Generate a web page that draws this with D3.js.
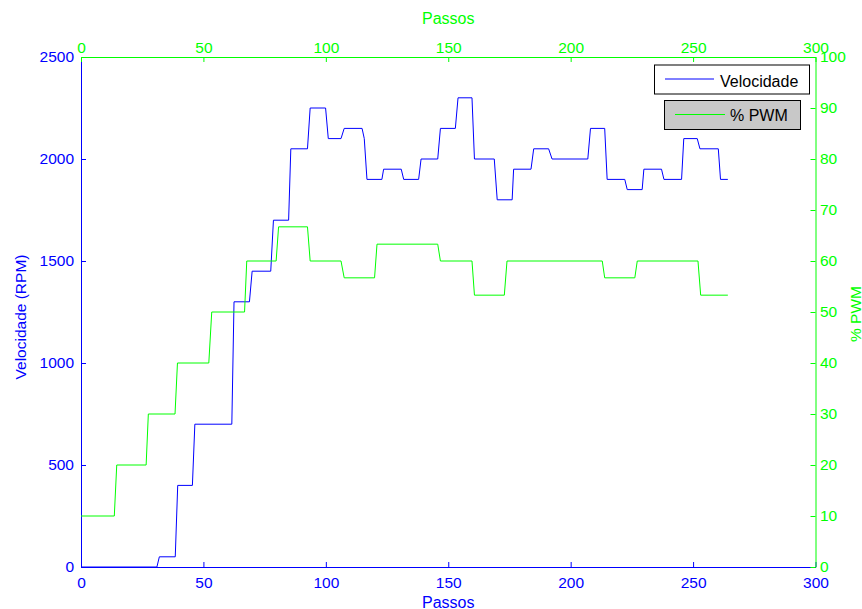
<!DOCTYPE html>
<html>
<head>
<meta charset="utf-8">
<script src="https://cdn.jsdelivr.net/npm/d3@7"></script>
<style>
  html, body { margin: 0; padding: 0; background: #fff; }
  svg { display: block; font-family: "Liberation Sans", Arial, sans-serif; }
</style>
</head>
<body>
<svg id="chart" width="862" height="609"></svg>
<script>
// ---- Data ----
// Velocidade (RPM): polyline corners (passo, rpm)
const velPassos = [0, 31, 32, 38.5, 39.5, 45.5, 46.5, 61.6, 62.5, 68.8, 69.9, 77.5, 78.6, 84.8, 85.7,
  92.5, 93.6, 99.9, 101, 106.2, 107.5, 114.8, 115.7, 116.8, 122.9, 123.6, 130.8, 131.8, 137.9, 138.9,
  145.7, 146.8, 152.9, 154, 159.7, 160.7, 168.8, 170, 176.1, 176.7, 183.8, 184.9, 191, 192.4, 207, 208.1,
  213.9, 214.9, 222.1, 223.1, 229.2, 229.9, 237.1, 238.1, 245.3, 246.2, 251.7, 252.8, 260.3, 261.2, 264.2];
const velValues = [0, 0, 50, 50, 400, 400, 700, 700, 1300, 1300, 1450, 1450, 1700, 1700, 2050,
  2050, 2250, 2250, 2100, 2100, 2150, 2150, 2100, 1900, 1900, 1950, 1950, 1900, 1900, 2000,
  2000, 2150, 2150, 2300, 2300, 2000, 2000, 1800, 1800, 1950, 1950, 2050, 2050, 2000, 2000, 2150,
  2150, 1900, 1900, 1850, 1850, 1950, 1950, 1900, 1900, 2100, 2100, 2050, 2050, 1900, 1900];

// % PWM: polyline corners (passo, %)
const pwmPassos = [0, 13.6, 14.6, 26.6, 27.5, 38.4, 39.4, 52.2, 53.4, 66.8, 67.7, 79.7, 80.7, 92.5, 93.6,
  106.2, 107.5, 119.9, 120.9, 145.7, 146.8, 159.7, 160.7, 172.9, 174, 212.9, 213.9, 226.2, 227.2,
  252, 253.1, 264.2];
const pwmValues = [10, 10, 20, 20, 30, 30, 40, 40, 50, 50, 60, 60, 66.7, 66.7, 60,
  60, 56.7, 56.7, 63.3, 63.3, 60, 60, 53.3, 53.3, 60, 60, 56.7, 56.7, 60,
  60, 53.3, 53.3];

const xTicks = [0, 50, 100, 150, 200, 250, 300];
const velTicks = [0, 500, 1000, 1500, 2000, 2500];
const pwmTicks = [0, 10, 20, 30, 40, 50, 60, 70, 80, 90, 100];
const legendLabels = ["Velocidade", "% PWM"];
const xLabel = "Passos";
const yLeftLabel = "Velocidade (RPM)";
const yRightLabel = "% PWM";

// ---- Layout ----
const BLUE = "#0000ff", GREEN = "#00ff00";
const L = 81, R = 815.5, T = 57, B = 567;
const svg = d3.select("#chart");
svg.append("rect").attr("width", 862).attr("height", 609).attr("fill", "#fff");

const x = d3.scaleLinear().domain([0, 300]).range([L, R]);
const yV = d3.scaleLinear().domain([0, 2500]).range([B, T]);
const yP = d3.scaleLinear().domain([0, 100]).range([B, T]);

function styleAxis(g, color) {
  g.selectAll("path.domain").attr("stroke", color).attr("stroke-width", 1);
  g.selectAll(".tick line").attr("stroke", color);
  g.selectAll(".tick text").attr("fill", color).style("font-size", "15.5px")
    .style("font-family", "'Liberation Sans', Arial, sans-serif");
}

// Blue axes (left & bottom)
const gLeft = svg.append("g").attr("transform", `translate(${L},0)`)
  .call(d3.axisLeft(yV).tickValues(velTicks).tickFormat(d3.format("d"))
    .tickSizeInner(-5).tickSizeOuter(0).tickPadding(7));
styleAxis(gLeft, BLUE);

const gBottom = svg.append("g").attr("transform", `translate(0,${B})`)
  .call(d3.axisBottom(x).tickValues(xTicks).tickFormat(d3.format("d"))
    .tickSizeInner(-5).tickSizeOuter(0).tickPadding(9.5));
styleAxis(gBottom, BLUE);

// Blue line
const lineV = d3.line().x((d, i) => x(velPassos[i])).y(d => yV(d));
svg.append("path").datum(velValues).attr("d", lineV)
  .attr("fill", "none").attr("stroke", BLUE).attr("stroke-width", 1);

// Green axes (top & right)
const gTop = svg.append("g").attr("transform", `translate(0,${T})`)
  .call(d3.axisTop(x).tickValues(xTicks).tickFormat(d3.format("d"))
    .tickSizeInner(-5).tickSizeOuter(0).tickPadding(4.5));
styleAxis(gTop, GREEN);

const gRight = svg.append("g").attr("transform", `translate(${R},0)`)
  .call(d3.axisRight(yP).tickValues(pwmTicks).tickFormat(d3.format("d"))
    .tickSizeInner(-5).tickSizeOuter(0).tickPadding(4.5));
styleAxis(gRight, GREEN);

// Green line
const lineP = d3.line().x((d, i) => x(pwmPassos[i])).y(d => yP(d));
svg.append("path").datum(pwmValues).attr("d", lineP)
  .attr("fill", "none").attr("stroke", GREEN).attr("stroke-width", 1);

// Axis titles
const font = "'Liberation Sans', Arial, sans-serif";
svg.append("text").attr("x", (L + R) / 2).attr("y", 607.5).attr("text-anchor", "middle")
  .attr("fill", BLUE).style("font-size", "16px").style("font-family", font).text(xLabel);
svg.append("text").attr("x", (L + R) / 2).attr("y", 24).attr("text-anchor", "middle")
  .attr("fill", GREEN).style("font-size", "16px").style("font-family", font).text(xLabel);
svg.append("text").attr("transform", `translate(26,${(T + B) / 2 + 5}) rotate(-90)`)
  .attr("text-anchor", "middle").attr("fill", BLUE).style("font-size", "15.5px")
  .style("font-family", font).text(yLeftLabel);
svg.append("text").attr("transform", `translate(861,${(T + B) / 2 + 2}) rotate(-90)`)
  .attr("text-anchor", "middle").attr("fill", GREEN).style("font-size", "15.5px")
  .style("font-family", font).text(yRightLabel);

// Legends (two separate boxes, as in plotyy)
const legends = [
  { label: legendLabels[0], color: BLUE, fill: "#ffffff", x0: 654.5, y0: 65, x1: 809.5, y1: 94, lx0: 665, lx1: 714, ly: 79, tx: 720, ty: 86.5 },
  { label: legendLabels[1], color: GREEN, fill: "#c8c8c8", x0: 664.5, y0: 100.5, x1: 800.5, y1: 129.5, lx0: 675, lx1: 725, ly: 114.5, tx: 730, ty: 120.5 }
];
legends.forEach(lg => {
  const g = svg.append("g");
  g.append("rect").attr("x", lg.x0).attr("y", lg.y0)
    .attr("width", lg.x1 - lg.x0).attr("height", lg.y1 - lg.y0)
    .attr("fill", lg.fill).attr("stroke", "#000").attr("stroke-width", 1);
  g.append("line").attr("x1", lg.lx0).attr("x2", lg.lx1).attr("y1", lg.ly).attr("y2", lg.ly)
    .attr("stroke", lg.color).attr("stroke-width", 1);
  g.append("text").attr("x", lg.tx).attr("y", lg.ty).attr("fill", "#000")
    .style("font-size", "16px").style("font-family", font).text(lg.label);
});
</script>
</body>
</html>
